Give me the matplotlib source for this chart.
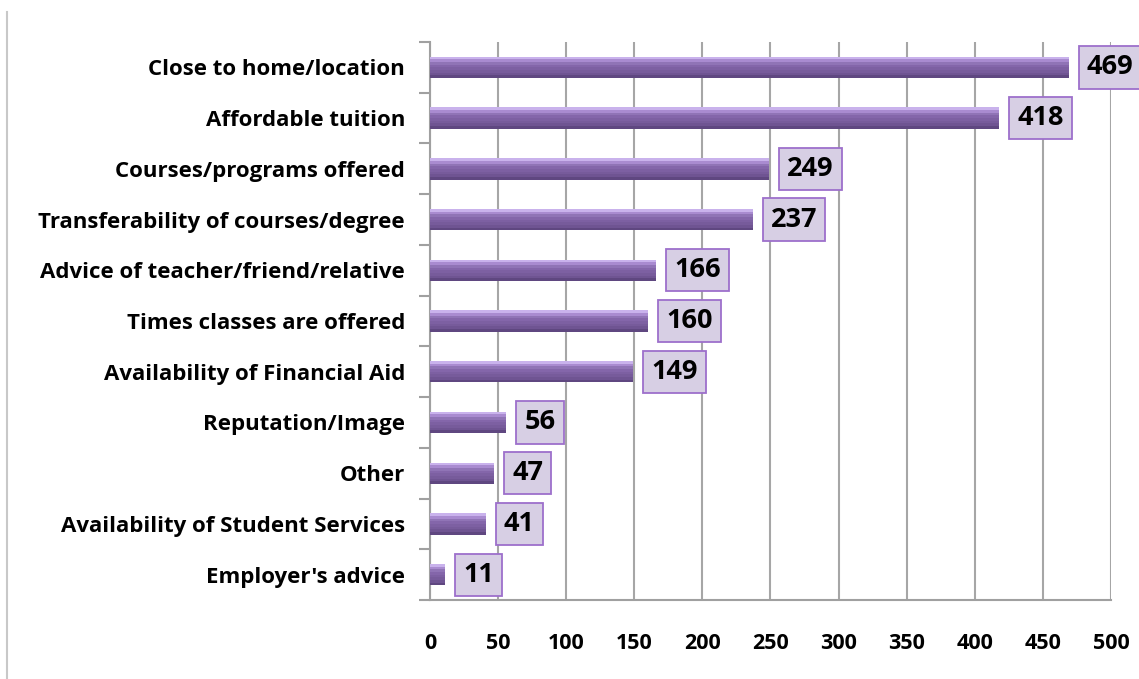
import matplotlib.pyplot as plt
import matplotlib.lines as mlines
import numpy as np

# Data
categories = ['Close to home/location', 'Affordable tuition', 'Courses/programs offered',
              'Transferability of courses/degree', 'Advice of teacher/friend/relative',
              'Times classes are offered', 'Availability of Financial Aid', 'Reputation/Image',
              'Other', 'Availability of Student Services', "Employer's advice"]
counts = [469, 418, 249, 237, 166, 160, 149, 56, 47, 41, 11]
xticks = [0, 50, 100, 150, 200, 250, 300, 350, 400, 450, 500]

plt.rcParams['font.family'] = ['Open Sans', 'DejaVu Sans']
plt.rcParams['font.weight'] = 'bold'

fig = plt.figure(figsize=(11.39, 6.79), dpi=100)
ax = fig.add_axes([0.3775, 0.1163, 0.5979, 0.8218])

y = np.arange(len(categories))
bar_h = 0.42

# Shaded bars: stack thin slices from top (light) to bottom (dark)
shades = ['#c9b2ec', '#a98bd0', '#9074b6', '#8466aa', '#7d60a2', '#775b9b', '#6f5492', '#5f4780']
n = len(shades)
for i, c in enumerate(shades):
    top = y - bar_h / 2 + i * bar_h / n
    ax.barh(top, counts, height=bar_h / n, align='edge', color=c, edgecolor='none', zorder=3)

# Value labels in boxes
for yi, v in zip(y, counts):
    ax.annotate(str(v), xy=(v, yi), xytext=(13, 0), textcoords='offset points',
                ha='left', va='center', fontsize=19.5, fontweight='bold', color='black',
                bbox=dict(boxstyle='square,pad=0.3', fc='#d7cfe4', ec='#9d6fcb', lw=1.3),
                zorder=5, annotation_clip=False)

ax.set_xlim(0, 500)
ax.set_ylim(len(categories) - 0.5, -0.5)
ax.set_xticks(xticks)
ax.set_xticklabels([str(t) for t in xticks], fontsize=15.5, fontweight='bold')
ax.set_yticks(y)
ax.set_yticklabels(categories, fontsize=16, fontweight='bold')
ax.tick_params(axis='y', length=0, pad=18)
ax.tick_params(axis='x', length=0, pad=24)

# Minor ticks on y at category boundaries
ax.set_yticks(np.arange(-0.5, len(categories)), minor=True)
ax.tick_params(axis='y', which='minor', length=8, color='#a0a0a0', width=1.5)

ax.grid(axis='x', color='#a6a6a6', lw=1.5, zorder=0)
for s in ['top', 'right']:
    ax.spines[s].set_visible(False)
ax.spines['left'].set_color('#a0a0a0')
ax.spines['left'].set_linewidth(1.5)
ax.spines['bottom'].set_color('#a0a0a0')
ax.spines['bottom'].set_linewidth(1.5)

# X tick marks below axis
ax.set_xticks(xticks, minor=True)
ax.tick_params(axis='x', which='minor', length=8, color='#a0a0a0', width=1.5, labelbottom=False)

# Thin frame line at left of picture
fig.add_artist(mlines.Line2D([0.0062, 0.0062], [0.0, 0.982], color='#c8c8c8', lw=1.5))

fig.savefig('out.png', dpi=100)
